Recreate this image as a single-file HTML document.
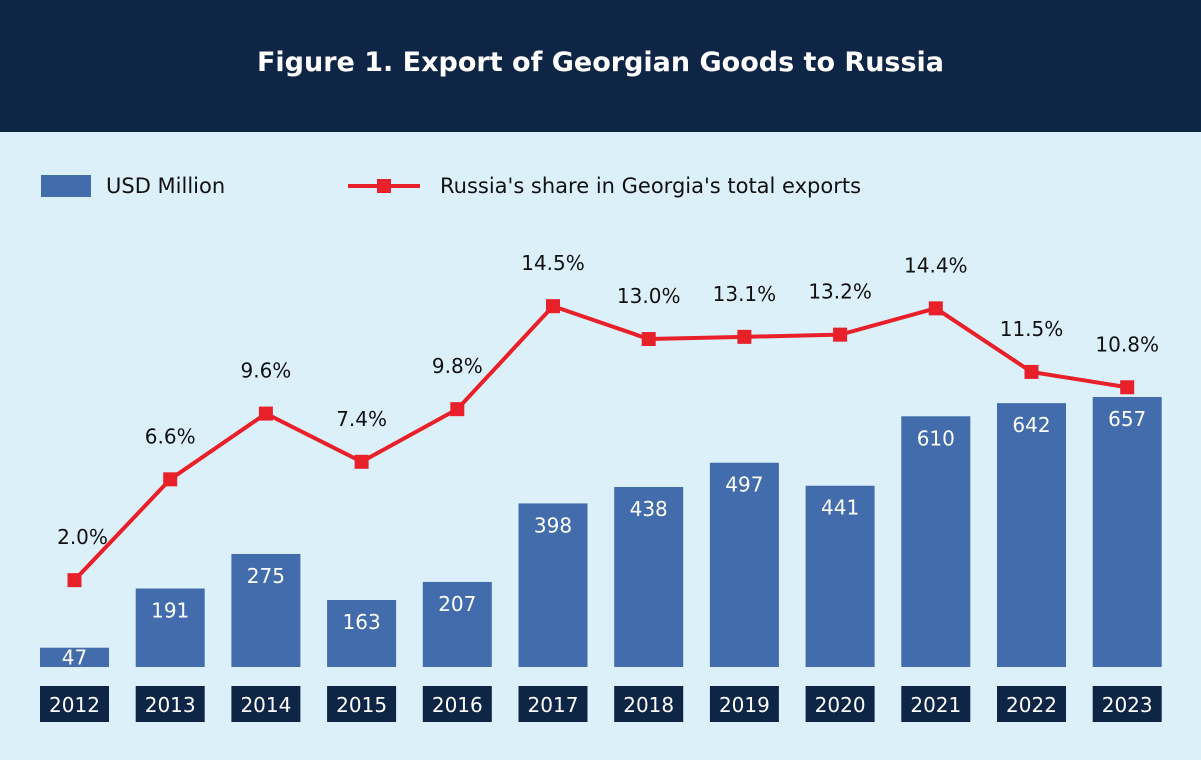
<!DOCTYPE html>
<html><head><meta charset="utf-8"><style>
body{margin:0;width:1201px;height:760px;background:#dcf0fa;font-family:"DejaVu Sans","Liberation Sans",sans-serif;overflow:hidden}
#hdr{position:absolute;left:0;top:0;width:1201px;height:132px;background:#0e2545;color:#fff;font-weight:bold;font-size:27px;text-align:center;line-height:126px}
svg{position:absolute;left:0;top:0}
</style></head><body>
<div id="hdr">Figure 1. Export of Georgian Goods to Russia</div>
<svg id="chart" width="1201" height="760">
<g>
<rect x="41" y="175" width="50" height="22" fill="#426cab"/>
<text x="106" y="193" font-size="21" fill="#111">USD Million</text>
<line x1="348" y1="186" x2="420" y2="186" stroke="#e8202a" stroke-width="4"/>
<rect x="377" y="179" width="14" height="14" fill="#e8202a"/>
<text x="440" y="193" font-size="21" fill="#111">Russia's share in Georgia's total exports</text>
</g>
</svg>
<script>
const years=["2012","2013","2014","2015","2016","2017","2018","2019","2020","2021","2022","2023"];
const exportsUSD=[47,191,275,163,207,398,438,497,441,610,642,657];
const sharePct=[2.0,6.6,9.6,7.4,9.8,14.5,13.0,13.1,13.2,14.4,11.5,10.8];
const shareLabels=["2.0%","6.6%","9.6%","7.4%","9.8%","14.5%","13.0%","13.1%","13.2%","14.4%","11.5%","10.8%"];
const NS="http://www.w3.org/2000/svg";
const svg=document.getElementById('chart');
const base=667,bw=69;
const xC=i=>74.5+i*95.7;
const yBar=v=>base-v*0.411;
const yPct=v=>624-v*21.92;
function mk(t,a){const e=document.createElementNS(NS,t);for(const k in a)e.setAttribute(k,a[k]);svg.appendChild(e);return e;}
years.forEach((y,i)=>{
 const b=mk('rect',{x:xC(i)-bw/2,y:yBar(exportsUSD[i]),width:bw,height:base-yBar(exportsUSD[i]),fill:'#426cab'});
 
 
 const t=mk('text',{x:xC(i),y:yBar(exportsUSD[i])+(exportsUSD[i]<60?17:29),'text-anchor':'middle','font-size':20,fill:'#fff'});
 t.textContent=exportsUSD[i];
 
 
 const bx=mk('rect',{x:xC(i)-bw/2,y:686,width:bw,height:36,fill:'#0e2545'});
 
 
 const yt=mk('text',{x:xC(i),y:712,'text-anchor':'middle','font-size':20,fill:'#fff'});
 yt.textContent=y;
 
 
});
const pl=mk('polyline',{points:sharePct.map((v,i)=>xC(i)+','+yPct(v)).join(' '),fill:'none',stroke:'#e8202a','stroke-width':4});


sharePct.forEach((v,i)=>{
 const m=mk('rect',{x:xC(i)-7,y:yPct(v)-7,width:14,height:14,fill:'#e8202a'});
 
 
 const t=mk('text',{x:xC(i)+(i==0?8:0),y:yPct(v)-36,'text-anchor':'middle','font-size':20,fill:'#111'});
 t.textContent=shareLabels[i];
 
 
});
</script>
</body></html>
